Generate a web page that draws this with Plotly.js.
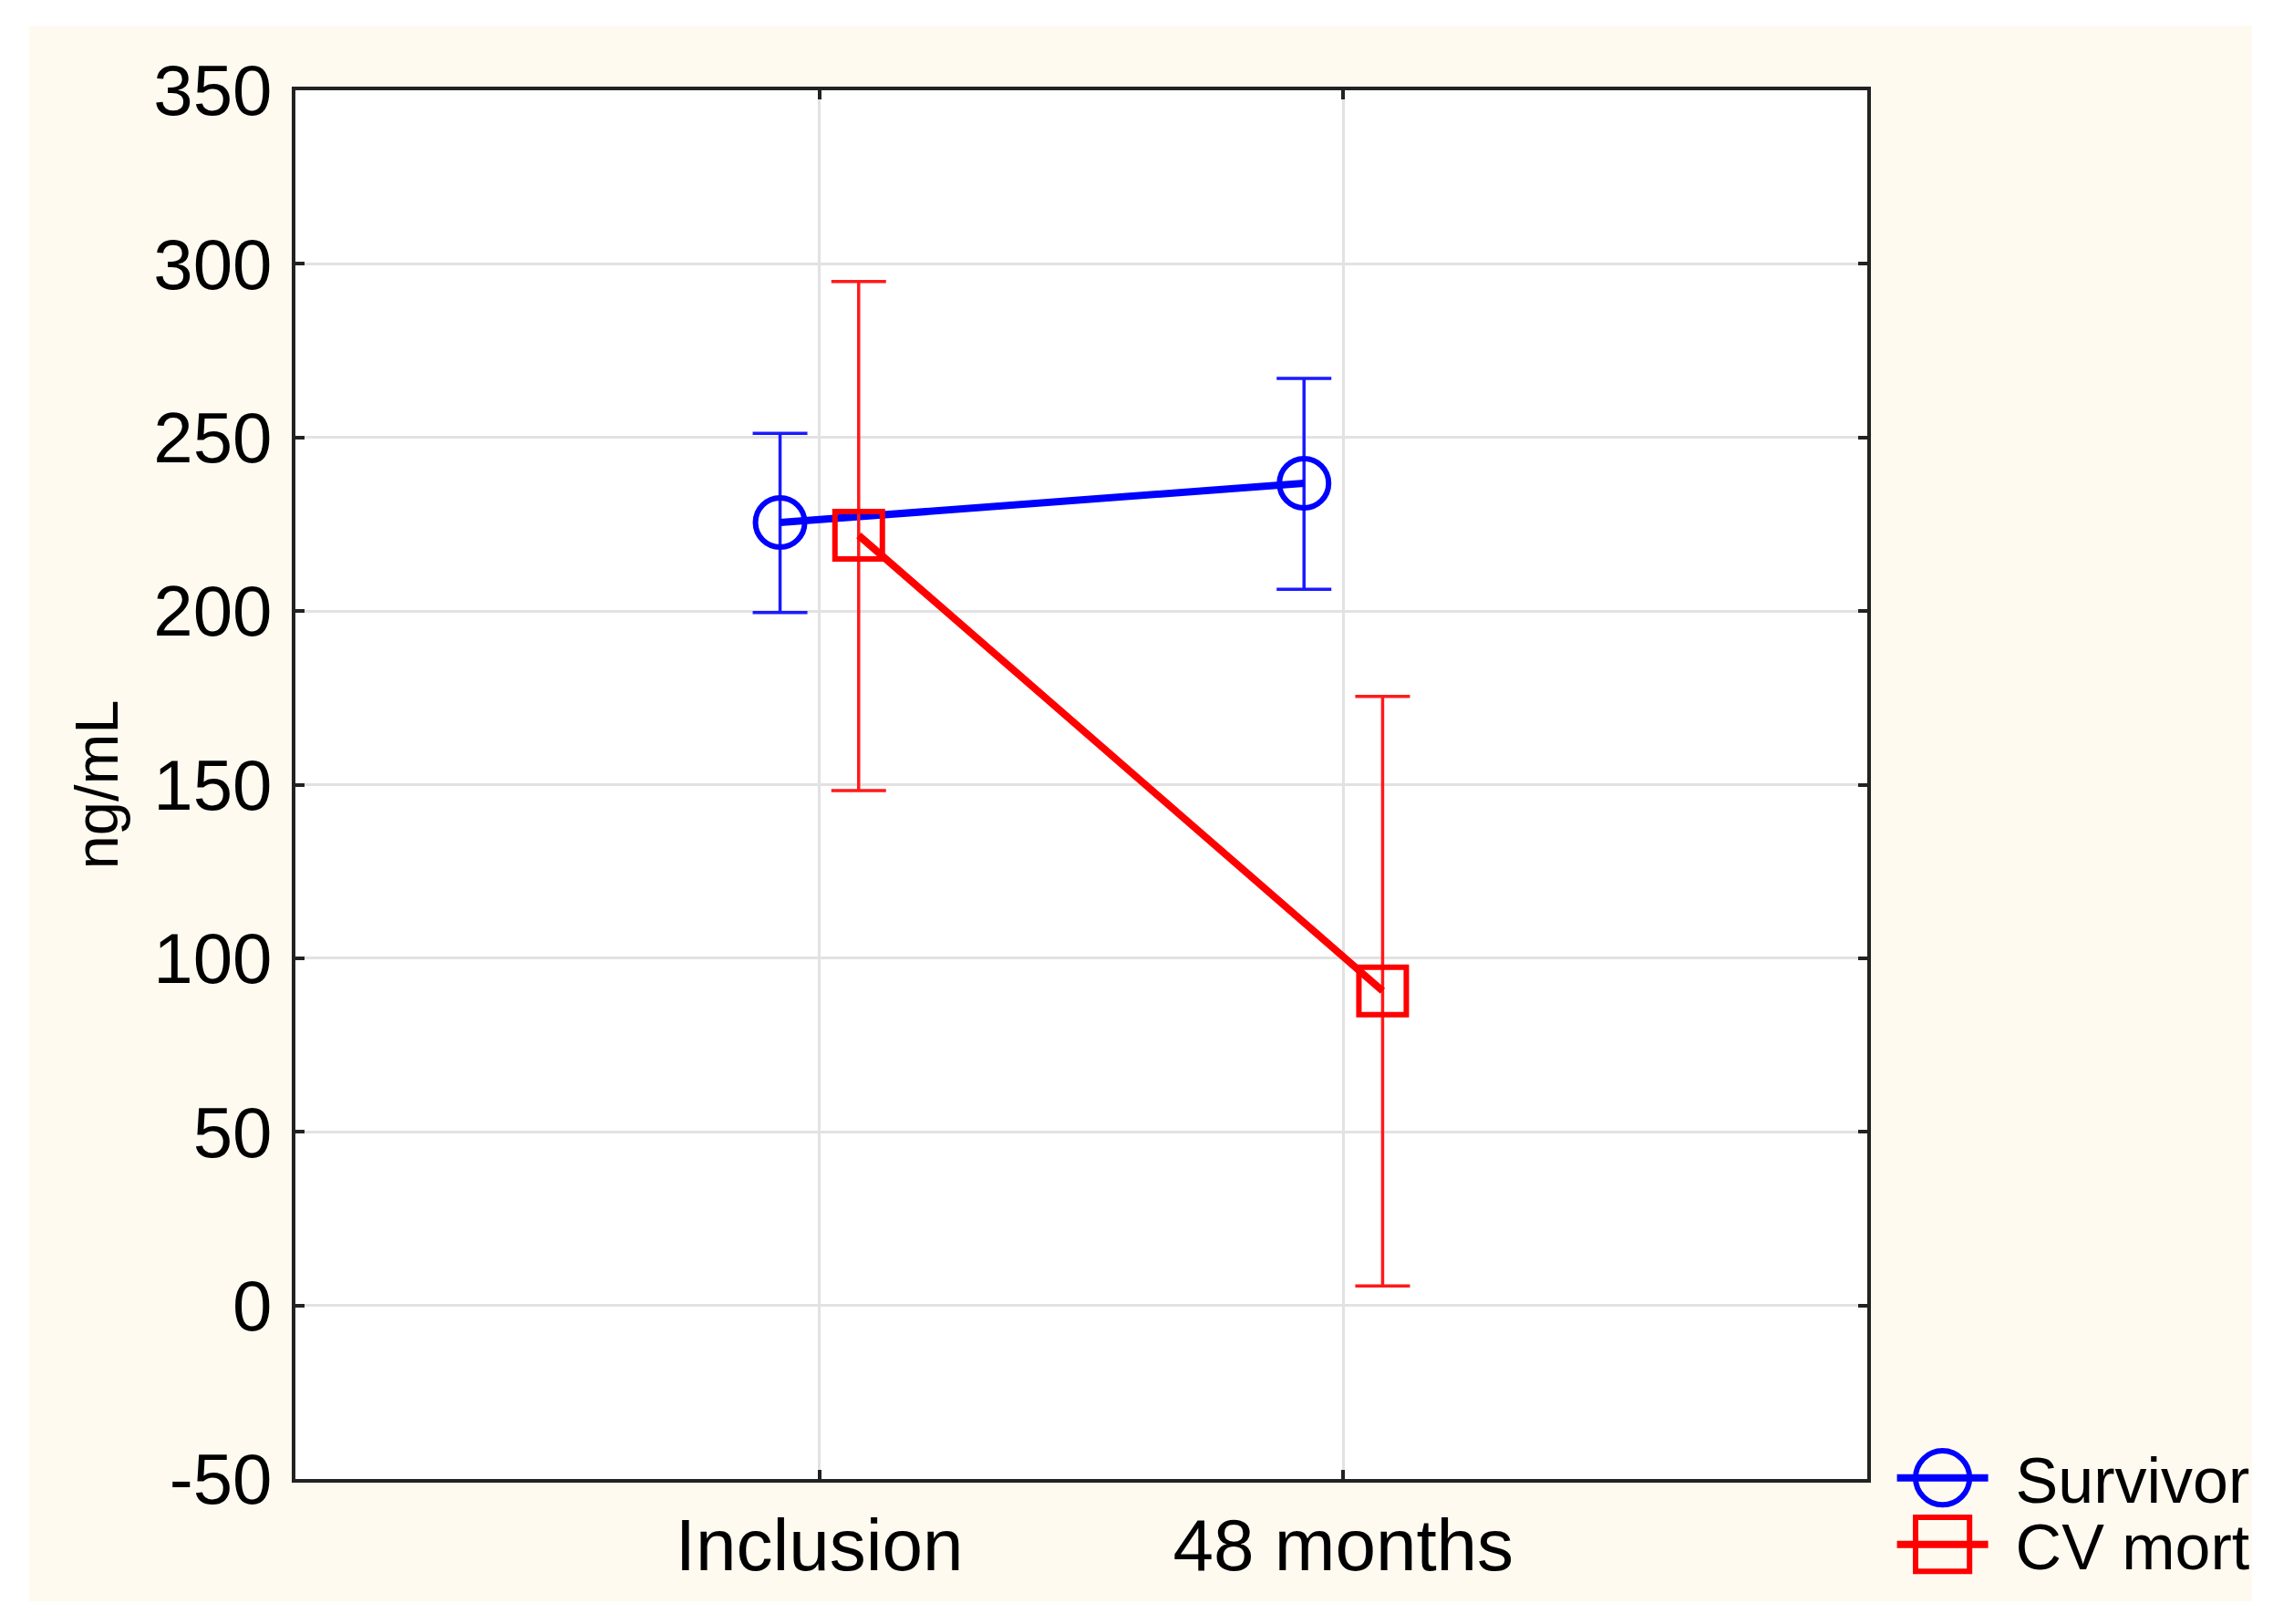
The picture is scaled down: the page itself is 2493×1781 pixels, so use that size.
<!DOCTYPE html>
<html>
<head>
<meta charset="utf-8">
<script src="https://cdn.plot.ly/plotly-3.0.1.min.js"></script>
<style>
  html, body { margin: 0; padding: 0; background: #ffffff; }
  #chart { position: absolute; left: 32px; top: 28px; width: 2438px; height: 1728px; }
</style>
</head>
<body>
<div id="chart"></div>
<script>
// ---- data ----
var categories = ["Inclusion", "48 months"];
var seriesNames = ["Survivor", "CV mort"];

var survivorMean  = [225.5, 236.8];
var survivorUpper = [251.2, 267.0];
var survivorLower = [199.6, 206.3];

var cvMortMean  = [221.8, 90.6];
var cvMortUpper = [294.9, 175.4];
var cvMortLower = [148.3, 5.6];

var yTickValues = [-50, 0, 50, 100, 150, 200, 250, 300, 350];
var yTickLabels = ["-50", "0", "50", "100", "150", "200", "250", "300", "350"];

function diff(a, b) { return a.map(function (v, i) { return v - b[i]; }); }

var FONT = "Liberation Sans, Arial, sans-serif";

var survivor = {
  type: "scatter",
  name: seriesNames[0],
  x: categories,
  y: survivorMean,
  offsetgroup: "s",
  mode: "lines+markers",
  line: { color: "#0000ff", width: 8 },
  marker: { symbol: "circle-open", size: 54, color: "#0000ff", line: { width: 6, color: "#0000ff" } },
  error_y: {
    type: "data", symmetric: false,
    array: diff(survivorUpper, survivorMean),
    arrayminus: diff(survivorMean, survivorLower),
    color: "#1a1aff", thickness: 3.5, width: 30
  }
};

var cvMort = {
  type: "scatter",
  name: seriesNames[1],
  x: categories,
  y: cvMortMean,
  offsetgroup: "c",
  mode: "lines+markers",
  line: { color: "#ff0000", width: 8 },
  marker: { symbol: "square-open", size: 52, color: "#ff0000", line: { width: 6, color: "#ff0000" } },
  error_y: {
    type: "data", symmetric: false,
    array: diff(cvMortUpper, cvMortMean),
    arrayminus: diff(cvMortMean, cvMortLower),
    color: "#ff1a1a", thickness: 3.5, width: 30
  }
};

var axisCommon = {
  showgrid: true,
  gridcolor: "#e2e2e2",
  gridwidth: 3,
  showline: true,
  mirror: "ticks",
  linecolor: "#222222",
  linewidth: 4,
  ticks: "inside",
  ticklen: 10,
  tickwidth: 4,
  tickcolor: "#222222",
  zeroline: false,
  fixedrange: true
};

var layout = {
  width: 2438,
  height: 1728,
  paper_bgcolor: "#fefaf0",
  plot_bgcolor: "#ffffff",
  margin: { l: 292, r: 422, t: 71, b: 134, pad: 0, autoexpand: false },
  font: { family: FONT, color: "#000000" },
  scattermode: "group",
  scattergap: 0.7,
  showlegend: true,
  legend: {
    x: 1.016, xanchor: "left",
    y: -0.030, yanchor: "middle",
    bgcolor: "rgba(0,0,0,0)",
    borderwidth: 0,
    font: { family: FONT, size: 70, color: "#000000" },
    itemwidth: 100,
    traceorder: "normal"
  },
  xaxis: Object.assign({}, axisCommon, {
    type: "category",
    range: [-1, 2],
    tickfont: { family: FONT, size: 80, color: "#000000" }
  }),
  yaxis: Object.assign({}, axisCommon, {
    range: [-50, 350],
    tickmode: "array",
    tickvals: yTickValues,
    ticktext: yTickLabels,
    tickfont: { family: FONT, size: 78, color: "#000000" },
    ticklabelstandoff: 6,
    title: { text: "ng/mL", font: { family: FONT, size: 67, color: "#000000" }, standoff: 18 }
  })
};

Plotly.newPlot("chart", [survivor, cvMort], layout, { displayModeBar: false, staticPlot: true }).then(function () {
  // let the legend draw past its computed box (text is nudged right below)
  document.querySelectorAll("#chart .legend [clip-path]").forEach(function (el) {
    el.removeAttribute("clip-path");
  });
  // enlarge legend marker glyphs to match the reference
  var pts = document.querySelectorAll("#chart .legend .legendpoints path.scatterpts");
  pts.forEach(function (p) {
    var t = p.getAttribute("transform") || "";
    p.setAttribute("transform", t + " scale(3.7)");
    p.style.vectorEffect = "non-scaling-stroke";
    p.style.strokeWidth = "6px";
  });
  var lines = document.querySelectorAll("#chart .legend .legendlines path");
  lines.forEach(function (p) { p.style.strokeWidth = "8px"; });
  // gap between legend symbol and its text, as in the reference
  var texts = document.querySelectorAll("#chart .legend text.legendtext");
  texts.forEach(function (t) {
    var x = parseFloat(t.getAttribute("x") || "0");
    t.setAttribute("x", x + 25);
  });
  // tighten legend row spacing to the reference's
  var items = document.querySelectorAll("#chart .legend g.traces");
  if (items.length === 2) {
    var m0 = /translate\(([-\d.]+)[ ,]+([-\d.]+)\)/.exec(items[0].getAttribute("transform") || "");
    if (m0) {
      var y0 = parseFloat(m0[2]);
      items[1].setAttribute("transform", "translate(" + m0[1] + "," + (y0 + 73) + ")");
    }
  }
});
</script>
</body>
</html>
